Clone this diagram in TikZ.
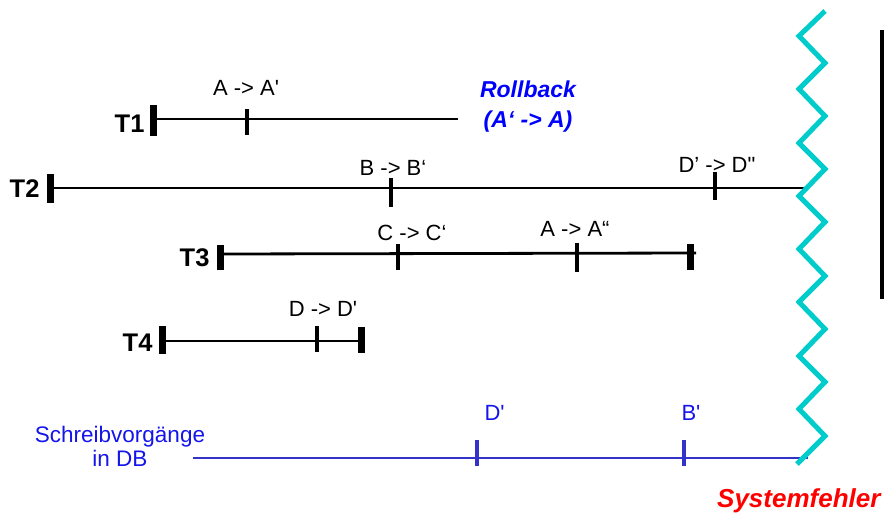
\documentclass[tikz,border=0pt]{standalone}
\usepackage{fontspec}
\setmainfont{Liberation Sans}
\definecolor{zigcyan}{RGB}{0,204,204}
\definecolor{dbline}{RGB}{51,51,204}
\definecolor{dbtext}{RGB}{20,20,235}

\begin{document}
\begin{tikzpicture}[x=1pt,y=-1pt,
  tline/.style={line width=2.8pt},
  wtick/.style={line width=3.2pt},
  tbar/.style={line width=7pt},
  lbl/.style={font=\fontsize{22}{26}\selectfont, anchor=base},
  tname/.style={font=\bfseries\fontsize{25.5}{28}\selectfont, anchor=east},
  redtxt/.style={font=\bfseries\itshape\fontsize{26}{30}\selectfont, text=red},
  bluetxt/.style={font=\bfseries\itshape\fontsize{23}{30}\selectfont, text=blue, align=center}]
\useasboundingbox (0,0) rectangle (884,515);

% ---- T1 : begins, writes A, is rolled back
\node[tname] (t1) at (148,124) {T1};
\coordinate (t1s) at (153,119);
\coordinate (t1e) at (458,119);
\coordinate (t1a) at (247,119);
\draw[tline] (t1s) -- (t1e);
\draw[tbar] (153,105) -- (153,136);
\draw[wtick] (t1a) ++(0,-10) -- ++(0,26);
\node[lbl] (la1) at (246,95) {A -> A\textquotesingle};
\node[bluetxt] (rb) at (528,107) {Rollback\\(A‘ -> A)};

% ---- T2 : still running at the failure
\node[tname] (t2) at (43,189) {T2};
\coordinate (t2s) at (50,188);
\coordinate (t2e) at (805,188);
\coordinate (t2b) at (391,188);
\coordinate (t2d) at (715,188);
\draw[tline] (t2s) -- (t2e);
\draw[tbar] (50,174) -- (50,203);
\draw[wtick] (t2b) ++(0,-10) -- ++(0,29);
\draw[wtick] (t2d) ++(0,-16) -- ++(0,28);
\node[lbl] (lb2) at (393,175) {B -> B‘};
\node[lbl] (ld2) at (717,172) {D’ -> D\textquotedbl};

% ---- T3 : committed
\node[tname] (t3) at (213,258) {T3};
\coordinate (t3s) at (220,254);
\coordinate (t3e) at (696,253);
\coordinate (t3c) at (398,254);
\coordinate (t3a) at (577,253);
\draw[tline] (t3s) -- (t3e);
\draw[tbar] (220,245) -- (220,270);
\draw[tbar] (690,244) -- (690,270);
\draw[wtick] (t3c) ++(0,-10) -- ++(0,26);
\draw[wtick] (t3a) ++(0,-10) -- ++(0,29);
\node[lbl] (lc3) at (412,240) {C -> C‘};
\node[lbl] (la3) at (575,236) {A -> A“};

% ---- T4 : committed
\node[tname] (t4) at (156,343) {T4};
\coordinate (t4s) at (162,341);
\coordinate (t4e) at (362,341);
\coordinate (t4d) at (317,341);
\draw[tline] (t4s) -- (t4e);
\draw[tbar] (162,326) -- (162,354);
\draw[tbar] (361,327) -- (361,353);
\draw[wtick] (t4d) ++(0,-15) -- ++(0,26);
\node[lbl] (ld4) at (323,316) {D -> D\textquotesingle};

% ---- writes that reached the DB
\node[font=\fontsize{22.5}{24}\selectfont, text=dbtext, align=center] (db) at (120,446) {Schreibvorgänge\\in DB};
\coordinate (dbs) at (193,458);
\coordinate (dbe) at (808,458);
\coordinate (dbd) at (477,458);
\coordinate (dbb) at (684,458);
\draw[dbline, line width=2.6pt] (dbs) -- (dbe);
\draw[dbline, line width=3.2pt] (dbd) ++(0,-18) -- ++(0,26);
\draw[dbline, line width=3.2pt] (dbb) ++(0,-18) -- ++(0,26);
\node[lbl, text=dbtext, anchor=base west] (wd) at (481,420) {D\textquotesingle};
\node[lbl, text=dbtext, anchor=base west] (wb) at (678,420) {B\textquotesingle};

% ---- system failure
\draw[zigcyan, line width=5pt] (825,11) -- (799,36) -- (825,63) -- (799,89) -- (825,116)
  -- (799,143) -- (825,169) -- (799,196) -- (825,222) -- (799,249) -- (825,276)
  -- (799,302) -- (825,329) -- (799,356) -- (825,382) -- (799,409) -- (825,436) -- (797,464);
\draw[line width=4.5pt] (882,30) -- (882,299);
\node[redtxt, anchor=base east] (sf) at (884,507) {Systemfehler};

\end{tikzpicture}
\end{document}
